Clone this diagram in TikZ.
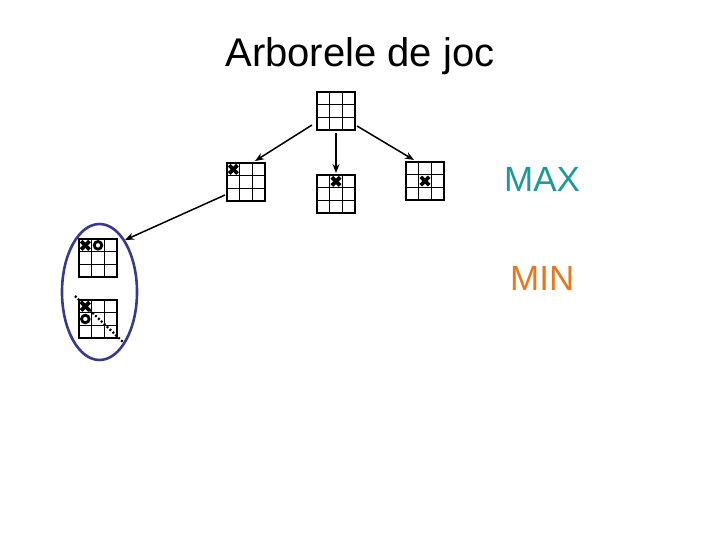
\documentclass[tikz,border=0pt]{standalone}
\usepackage{fontspec}
\setmainfont{Liberation Sans}
\usetikzlibrary{calc,arrows.meta,shapes.geometric}
\definecolor{maxcol}{HTML}{1E9A96}
\definecolor{mincol}{HTML}{E8781E}
\definecolor{ellcol}{HTML}{3B3A8A}
\tikzset{
  board/.style={draw=black, line width=1.1pt, minimum size=38pt, inner sep=0pt, outer sep=0pt},
  arr/.style={draw=black, line width=1.5pt, -{Stealth[length=9pt,width=7pt]}},
  xmark/.style={line width=3.8pt, line cap=butt},
  omark/.style={line width=2.8pt},
}
% \tttboard{name}{x}{y}
\newcommand{\tttboard}[3]{%
  \node[board] (#1) at (#2,#3) {};
  \draw[line width=1.1pt] ($(#1.north west)!1/3!(#1.north east)$) -- ($(#1.south west)!1/3!(#1.south east)$);
  \draw[line width=1.1pt] ($(#1.north west)!2/3!(#1.north east)$) -- ($(#1.south west)!2/3!(#1.south east)$);
  \draw[line width=1.1pt] ($(#1.north west)!1/3!(#1.south west)$) -- ($(#1.north east)!1/3!(#1.south east)$);
  \draw[line width=1.1pt] ($(#1.north west)!2/3!(#1.south west)$) -- ($(#1.north east)!2/3!(#1.south east)$);
}
% \xin{name}{row}{col}
\newcommand{\xin}[3]{%
  \draw[xmark] ($(#1.north west)+({(#3-1)*38/3+2.2},{(#2-1)*38/3+2.2})$) -- ++(8.3,8.3);
  \draw[xmark] ($(#1.north west)+({(#3)*38/3-2.2},{(#2-1)*38/3+2.2})$) -- ++(-8.3,8.3);
}
\newcommand{\oin}[3]{%
  \draw[omark] ($(#1.north west)+({(#3-0.5)*38/3},{(#2-0.5)*38/3})$) circle[radius=3.8pt];
}
\begin{document}
\begin{tikzpicture}[x=1pt,y=-1pt]
\useasboundingbox (0,0) rectangle (720,540);

\node[anchor=base, font=\fontsize{40}{46}\selectfont] (title) at (360,67) {Arborele de joc};
\node[anchor=base west, text=maxcol, font=\fontsize{35}{40}\selectfont, inner sep=0pt] (max) at (504,192) {MAX};
\node[anchor=base west, text=mincol, font=\fontsize{35}{40}\selectfont, inner sep=0pt] (min) at (510,290) {MIN};

\tttboard{t}{336}{111}
\tttboard{l}{246}{182}
\tttboard{m}{336}{194}
\tttboard{r}{425}{181}
\tttboard{g1}{98}{258}
\tttboard{g2}{98}{319}

\xin{l}{1}{1}
\xin{m}{1}{2}
\xin{r}{2}{2}
\xin{g1}{1}{1}
\oin{g1}{1}{2}
\xin{g2}{1}{1}
\oin{g2}{2}{1}

\draw[arr] ([shift={(-5pt,5pt)}]t.south west) -- ([shift={(-10pt,2pt)}]l.north east);
\draw[arr, shorten <=3pt, shorten >=2pt] (t.south) -- (m.north);
\draw[arr] ([shift={(2pt,4pt)}]t.south east) -- ([shift={(8pt,2pt)}]r.north west);
\draw[arr] ([shift={(-2pt,6pt)}]l.south west) -- ([shift={(8pt,-1pt)}]g1.north east);

\coordinate (d1) at (75,296);
\coordinate (d2) at (123,342);
\draw[line width=2.2pt, dash pattern=on 2pt off 2pt] (d1) -- (d2);

\node[draw=ellcol, line width=2.6pt, ellipse, minimum width=75pt, minimum height=136pt, inner sep=0pt] (ell) at (99.5,292) {};
\end{tikzpicture}
\end{document}
